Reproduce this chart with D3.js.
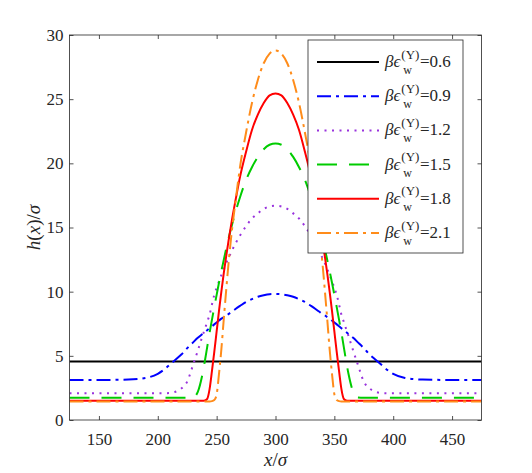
<!DOCTYPE html>
<html>
<head>
<meta charset="utf-8">
<script src="https://cdn.jsdelivr.net/npm/d3@7"></script>
</head>
<body style="margin:0">
<svg id="chart" width="532" height="473"></svg>
<script>
const xGrid = [125, 150, 175, 190, 200, 205, 210, 215, 220, 225, 230, 234, 238, 240, 242, 244, 246, 248, 250, 252, 254, 256, 258, 260, 263, 266, 270, 275, 280, 285, 290, 295,
  300,
  305, 310, 315, 320, 325, 330, 334, 337, 340, 342, 344, 346, 348, 350, 352, 354, 356, 358, 360, 362, 366, 370, 375, 380, 385, 390, 395, 400, 410, 425, 450, 475];

const xFlat = [125, 475];
const h06 = [4.55, 4.55];

const h09 = [3.12, 3.12, 3.15, 3.28, 3.6, 3.9, 4.3, 4.7, 5.1, 5.6, 6.05, 6.4, 6.7, 6.85, 7.0, 7.15, 7.3, 7.45, 7.6, 7.75, 7.9, 8.0, 8.15, 8.25, 8.45, 8.65, 8.9, 9.2, 9.42, 9.6, 9.72, 9.8,
  9.82,
  9.8, 9.72, 9.6, 9.42, 9.2, 8.9, 8.65, 8.45, 8.25, 8.15, 8.0, 7.9, 7.75, 7.6, 7.45, 7.3, 7.15, 7.0, 6.85, 6.7, 6.4, 6.05, 5.6, 5.1, 4.7, 4.3, 3.9, 3.6, 3.28, 3.15, 3.12, 3.12];

const h12 = [2.08, 2.08, 2.08, 2.08, 2.08, 2.08, 2.1, 2.2, 2.45, 3.0, 4.3, 5.4, 6.55, 7.1, 7.65, 8.2, 9.0, 9.75, 10.3, 10.8, 11.3, 11.75, 12.2, 12.6, 13.2, 13.75, 14.4, 15.1, 15.7, 16.1, 16.45, 16.64,
  16.7,
  16.64, 16.45, 16.1, 15.7, 15.1, 14.4, 13.75, 13.2, 12.6, 12.2, 11.75, 11.3, 10.8, 10.3, 9.75, 9.0, 8.2, 7.65, 7.1, 6.55, 5.4, 4.3, 3.0, 2.45, 2.2, 2.1, 2.08, 2.08, 2.08, 2.08, 2.08, 2.08];

const h15 = [1.74, 1.74, 1.74, 1.74, 1.74, 1.74, 1.74, 1.74, 1.74, 1.74, 1.76, 2.2, 3.6, 4.6, 5.7, 6.8, 7.8, 8.8, 9.75, 10.7, 11.6, 12.45, 13.3, 14.1, 15.2, 16.2, 17.4, 18.7, 19.7, 20.5, 21.1, 21.45,
  21.55,
  21.45, 21.1, 20.5, 19.7, 18.7, 17.4, 16.2, 15.2, 14.1, 13.3, 12.45, 11.6, 10.7, 9.75, 8.8, 7.8, 6.8, 5.7, 4.6, 3.6, 2.2, 1.76, 1.74, 1.74, 1.74, 1.74, 1.74, 1.74, 1.74, 1.74, 1.74, 1.74];

const h18 = [1.5, 1.5, 1.5, 1.5, 1.5, 1.5, 1.5, 1.5, 1.5, 1.5, 1.5, 1.5, 1.5, 1.52, 1.65, 2.4, 3.8, 5.3, 6.9, 8.5, 10.0, 11.4, 12.7, 13.9, 15.6, 17.1, 19.0, 20.9, 22.6, 23.8, 24.7, 25.3,
  25.45,
  25.3, 24.7, 23.8, 22.6, 20.9, 19.0, 17.1, 15.6, 13.9, 12.7, 11.4, 10.0, 8.5, 6.9, 5.3, 3.8, 2.4, 1.65, 1.52, 1.5, 1.5, 1.5, 1.5, 1.5, 1.5, 1.5, 1.5, 1.5, 1.5, 1.5, 1.5, 1.5];

const h21 = [1.45, 1.45, 1.45, 1.45, 1.45, 1.45, 1.45, 1.45, 1.45, 1.45, 1.45, 1.45, 1.45, 1.45, 1.45, 1.45, 1.47, 1.55, 2.0, 3.6, 5.5, 7.8, 10.0, 12.1, 14.8, 17.0, 19.8, 22.4, 24.7, 26.5, 27.8, 28.55,
  28.8,
  28.55, 27.8, 26.5, 24.7, 22.4, 19.8, 17.0, 14.8, 12.1, 10.0, 7.8, 5.5, 3.6, 2.0, 1.55, 1.47, 1.45, 1.45, 1.45, 1.45, 1.45, 1.45, 1.45, 1.45, 1.45, 1.45, 1.45, 1.45, 1.45, 1.45, 1.45, 1.45];

const epsLabels = ["0.6", "0.9", "1.2", "1.5", "1.8", "2.1"];
const xTicks = [150, 200, 250, 300, 350, 400, 450];
const yTicks = [0, 5, 10, 15, 20, 25, 30];

const series = [
  { xs: xFlat, ys: h06, label: epsLabels[0], color: "#000000", dash: null },
  { xs: xGrid, ys: h09, label: epsLabels[1], color: "#0000ff", dash: "14,5,3,5" },
  { xs: xGrid, ys: h12, label: epsLabels[2], color: "#9933dd", dash: "2,5.5" },
  { xs: xGrid, ys: h15, label: epsLabels[3], color: "#00cc00", dash: "20,12" },
  { xs: xGrid, ys: h18, label: epsLabels[4], color: "#ff0000", dash: null },
  { xs: xGrid, ys: h21, label: epsLabels[5], color: "#ff8c1a", dash: "14,5,3,5" }
];

const fontCss = "\"Times New Roman\"";
const axisColor = "#262626";

const svg = d3.select("#chart");
const plot = { left: 69.5, right: 481.5, top: 35, bottom: 420 };

const xScale = d3.scaleLinear().domain([125, 475]).range([plot.left, plot.right]);
const yScale = d3.scaleLinear().domain([0, 30]).range([plot.bottom, plot.top]);

svg.append("defs").append("clipPath").attr("id", "plotClip")
  .append("rect")
  .attr("x", plot.left).attr("y", plot.top)
  .attr("width", plot.right - plot.left).attr("height", plot.bottom - plot.top);

// --- curves ---
const line = d3.line()
  .x((d) => xScale(d[0]))
  .y((d) => yScale(d[1]))
  .curve(d3.curveMonotoneX);

const curves = svg.append("g").attr("clip-path", "url(#plotClip)");
series.forEach((s) => {
  curves.append("path")
    .datum(s.xs.map((x, i) => [x, s.ys[i]]))
    .attr("fill", "none")
    .attr("stroke", s.color)
    .attr("stroke-width", 2)
    .attr("stroke-dasharray", s.dash)
    .attr("d", line);
});

function serifText(sel, size, italic) {
  return sel
    .style("font-family", fontCss)
    .style("font-size", size + "px")
    .style("font-style", italic ? "italic" : "normal")
    .attr("fill", axisColor);
}

// --- axes (MATLAB style: inward ticks on all four sides) ---
function styleAxis(g) {
  g.attr("font-family", null).attr("font-size", null);
  g.select(".domain").remove();
  g.selectAll(".tick line").attr("stroke", axisColor).attr("stroke-width", 0.8);
  serifText(g.selectAll(".tick text"), 17, false);
}

svg.append("g")
  .attr("transform", `translate(0, ${plot.bottom})`)
  .call(d3.axisBottom(xScale).tickValues(xTicks).tickSizeInner(-4).tickSizeOuter(0).tickPadding(13))
  .call(styleAxis);

svg.append("g")
  .attr("transform", `translate(0, ${plot.top})`)
  .call(d3.axisTop(xScale).tickValues(xTicks).tickSizeInner(-4).tickSizeOuter(0).tickFormat(""))
  .call(styleAxis);

svg.append("g")
  .attr("transform", `translate(${plot.left}, 0)`)
  .call(d3.axisLeft(yScale).tickValues(yTicks).tickSizeInner(-4).tickSizeOuter(0).tickPadding(6))
  .call(styleAxis);

svg.append("g")
  .attr("transform", `translate(${plot.right}, 0)`)
  .call(d3.axisRight(yScale).tickValues(yTicks).tickSizeInner(-4).tickSizeOuter(0).tickFormat(""))
  .call(styleAxis);

svg.append("rect")
  .attr("x", plot.left).attr("y", plot.top)
  .attr("width", plot.right - plot.left).attr("height", plot.bottom - plot.top)
  .attr("fill", "none").attr("stroke", axisColor).attr("stroke-width", 0.8);

// --- axis titles ---
const xTitle = serifText(svg.append("text"), 19, false)
  .attr("x", (plot.left + plot.right) / 2)
  .attr("y", 466)
  .attr("text-anchor", "middle");
serifText(xTitle.append("tspan"), 19, true).text("x");
serifText(xTitle.append("tspan"), 19, false).text("/");
serifText(xTitle.append("tspan"), 19, true).text("σ");

const yTitle = serifText(svg.append("text"), 19, false)
  .attr("transform", `translate(40, ${(plot.top + plot.bottom) / 2}) rotate(-90)`)
  .attr("text-anchor", "middle");
serifText(yTitle.append("tspan"), 19, true).text("h");
serifText(yTitle.append("tspan"), 19, false).text("(");
serifText(yTitle.append("tspan"), 19, true).text("x");
serifText(yTitle.append("tspan"), 19, false).text(")/");
serifText(yTitle.append("tspan"), 19, true).text("σ");

// --- legend ---
const legend = { x: 308, y: 40, w: 155, h: 213, firstRow: 62, step: 34.2 };
const lg = svg.append("g");
lg.append("rect")
  .attr("x", legend.x).attr("y", legend.y)
  .attr("width", legend.w).attr("height", legend.h)
  .attr("fill", "#fff").attr("stroke", axisColor).attr("stroke-width", 0.8);

series.forEach((s, i) => {
  const ly = legend.firstRow + i * legend.step;
  lg.append("line")
    .attr("x1", 317).attr("x2", 379)
    .attr("y1", ly).attr("y2", ly)
    .attr("stroke", s.color)
    .attr("stroke-width", 2)
    .attr("stroke-dasharray", s.dash);

  const main = serifText(lg.append("text"), 17, true)
    .attr("x", 385).attr("y", ly + 5)
    .text("βϵ");
  const mx = 385 + main.node().getComputedTextLength() + 1;

  const sup = serifText(lg.append("text"), 13, false)
    .attr("x", mx).attr("y", ly - 3.5)
    .text("(Y)");
  serifText(lg.append("text"), 12, false)
    .attr("x", mx + 2).attr("y", ly + 12)
    .text("w");

  serifText(lg.append("text"), 17, false)
    .attr("x", mx + sup.node().getComputedTextLength() + 0.5)
    .attr("y", ly + 5)
    .text("=" + s.label);
});
</script>
</body>
</html>
